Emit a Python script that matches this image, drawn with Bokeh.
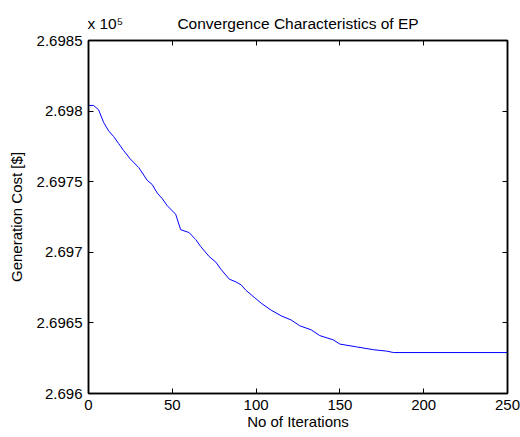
from bokeh.plotting import figure
from bokeh.models import LinearAxis, FixedTicker, CustomJSTickFormatter, Range1d
from bokeh.embed import file_html
from bokeh.resources import INLINE

iterations = [0, 3, 6, 9, 12, 15, 18, 21, 25, 30, 35, 38, 41, 44, 47, 52, 55, 60, 64, 67,
              72, 76, 79, 84, 88, 91, 94, 99, 103, 109, 115, 121, 126, 133, 138, 146, 150,
              160, 170, 178, 182, 250]
cost = [269804, 269804, 269801, 269792, 269786, 269782, 269777, 269772, 269766, 269760,
        269751, 269748, 269742, 269738, 269733, 269727, 269716, 269714, 269709, 269704,
        269697, 269693, 269688, 269681, 269679, 269677, 269673, 269668, 269664, 269659,
        269655, 269652, 269648, 269645, 269641, 269638, 269635, 269633, 269631, 269630,
        269629, 269629]
x_ticks = [0, 50, 100, 150, 200, 250]
y_ticks = [269600, 269650, 269700, 269750, 269800, 269850]
title_text = "Convergence Characteristics of EP"
exponent_text = "x 10\u2075"

FONT = "Liberation Sans"
FS = "15px"

p = figure(width=520, height=437, output_backend="svg", toolbar_location=None,
           x_range=Range1d(0, 250), y_range=Range1d(269600, 269850),
           min_border_left=88, min_border_right=13, min_border_top=40, min_border_bottom=44,
           title=None)

p.line(iterations, cost, line_color="#0000ff", line_width=1)

p.xgrid.visible = False
p.ygrid.visible = False
p.outline_line_color = "black"
p.outline_line_width = 1.5
p.background_fill_color = "white"
p.border_fill_color = "white"

fmt = CustomJSTickFormatter(code="return String(+(tick/1e5).toFixed(4));")

for ax in (p.xaxis[0], p.yaxis[0]):
    ax.major_tick_in = 5
    ax.major_tick_out = 0
    ax.minor_tick_in = 0
    ax.minor_tick_out = 0
    ax.axis_line_width = 1.5
    ax.axis_line_color = "black"
    ax.major_tick_line_color = "black"
    ax.major_tick_line_width = 1
    ax.major_label_text_font = FONT
    ax.major_label_text_font_size = FS
    ax.major_label_text_color = "black"
    ax.axis_label_text_font = FONT
    ax.axis_label_text_font_size = FS
    ax.axis_label_text_font_style = "normal"
    ax.axis_label_text_color = "black"

p.xaxis[0].ticker = FixedTicker(ticks=x_ticks)
p.yaxis[0].ticker = FixedTicker(ticks=y_ticks)
p.yaxis[0].formatter = fmt
p.xaxis[0].axis_label = "No of Iterations"
p.yaxis[0].axis_label = "Generation Cost [$]"
p.xaxis[0].major_label_standoff = 6
p.xaxis[0].axis_label_standoff = 0
p.yaxis[0].major_label_standoff = 6
p.yaxis[0].axis_label_standoff = 9

# tick marks on the top and right edges (MATLAB box)
top = LinearAxis(ticker=FixedTicker(ticks=x_ticks))
right = LinearAxis(ticker=FixedTicker(ticks=y_ticks))
for ax in (top, right):
    ax.major_tick_in = 5
    ax.major_tick_out = 0
    ax.minor_tick_in = 0
    ax.minor_tick_out = 0
    ax.axis_line_width = 1.5
    ax.major_label_text_color = None
    ax.major_label_text_font_size = "0px"
    ax.major_label_standoff = 0
p.add_layout(top, "above")
p.add_layout(right, "right")

# text row above the frame: exponent note (left) and the title (centred)
head = LinearAxis(ticker=FixedTicker(ticks=[10, 125]),
                  major_label_overrides={10: exponent_text, 125: title_text})
head.axis_line_color = None
head.major_tick_line_color = None
head.minor_tick_line_color = None
head.major_tick_in = 0
head.major_tick_out = 0
head.minor_tick_in = 0
head.minor_tick_out = 0
head.major_label_standoff = 9
head.major_label_text_font = FONT
head.major_label_text_font_size = "15.5px"
head.major_label_text_color = "black"
p.add_layout(head, "above")

open("out.html", "w").write(file_html(p, INLINE))
